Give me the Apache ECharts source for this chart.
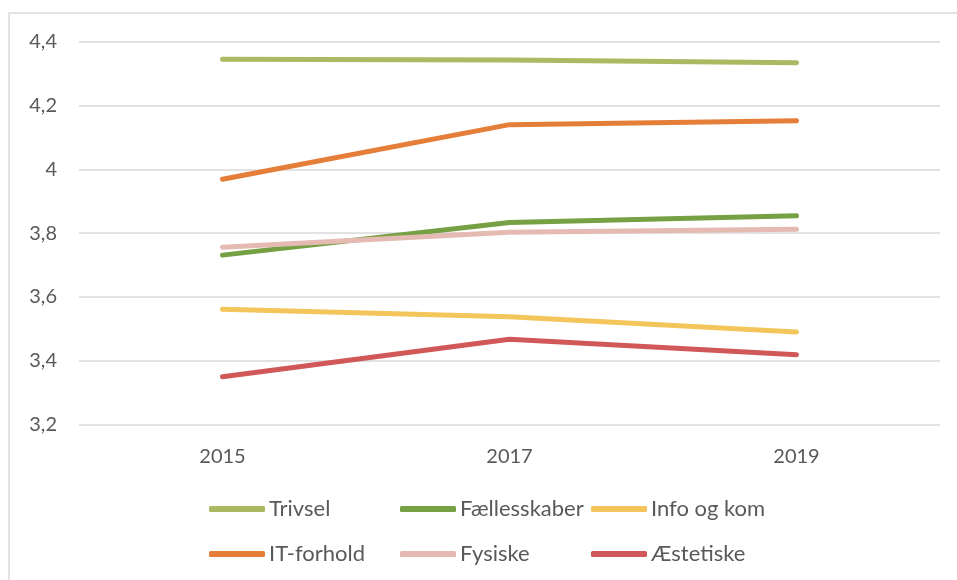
<!DOCTYPE html>
<html>
<head>
<meta charset="utf-8">
<script src="https://cdn.jsdelivr.net/npm/echarts@6/dist/echarts.min.js"></script>
<style>html,body{margin:0;padding:0;background:#fff}#c{width:957px;height:580px}</style>
</head>
<body>
<div id="c"></div>
<script>
const years = ['2015', '2017', '2019'];
const trivsel = [4.345, 4.343, 4.334];
const faellesskaber = [3.731, 3.833, 3.854];
const infoOgKom = [3.561, 3.538, 3.490];
const itForhold = [3.969, 4.140, 4.152];
const fysiske = [3.756, 3.803, 3.812];
const aestetiske = [3.350, 3.467, 3.419];
const yTicks = [3.2, 3.4, 3.6, 3.8, 4.0, 4.2, 4.4];

const seriesDefs = [
  {name: 'Trivsel', data: trivsel, color: '#A9BA62'},
  {name: 'Fællesskaber', data: faellesskaber, color: '#76A044'},
  {name: 'Info og kom', data: infoOgKom, color: '#F3C55B'},
  {name: 'IT-forhold', data: itForhold, color: '#E57E39'},
  {name: 'Fysiske', data: fysiske, color: '#E4BAB2'},
  {name: 'Æstetiske', data: aestetiske, color: '#D05858'}
];
const legendPos = [
  {left: 209, top: 497}, {left: 400, top: 497}, {left: 591, top: 497},
  {left: 209, top: 542}, {left: 400, top: 542}, {left: 591, top: 542}
];
const font = 'Lato, "Open Sans", sans-serif';
const chart = echarts.init(document.getElementById('c'));
chart.setOption({
  animation: false,
  textStyle: {fontFamily: font},
  graphic: [{type: 'rect', shape: {x: 9, y: 13, width: 1000, height: 1000}, style: {fill: 'none', stroke: '#d9d9d9', lineWidth: 1.5}, silent: true}],
  grid: {left: 79, right: 17, top: 41.7, bottom: 155.5, containLabel: false},
  legend: seriesDefs.map((s, i) => ({
    data: [s.name], left: legendPos[i].left, top: legendPos[i].top,
    icon: 'roundRect', itemWidth: 56, itemHeight: 6, padding: 0,
    textStyle: {fontSize: 22, lineHeight: 24, color: '#595959', fontFamily: font, padding: [0, 0, 0, -1]}
  })),
  xAxis: {
    type: 'category', data: years, boundaryGap: true,
    axisLine: {show: false}, axisTick: {show: false},
    axisLabel: {fontSize: 20, color: '#595959', margin: 22, fontFamily: font}
  },
  yAxis: {
    type: 'value', min: yTicks[0], max: yTicks[yTicks.length - 1], interval: 0.2,
    axisLine: {show: false}, axisTick: {show: false},
    splitLine: {lineStyle: {color: '#d9d9d9', width: 1.5}},
    axisLabel: {fontSize: 20, color: '#595959', margin: 22, fontFamily: font,
      formatter: v => String(Math.round(v * 10) / 10).replace('.', ',')}
  },
  series: seriesDefs.map(s => ({
    name: s.name, type: 'line', data: s.data, color: s.color,
    showSymbol: false, symbol: 'none',
    lineStyle: {width: 5, color: s.color, cap: 'round', join: 'round'}
  }))
});
</script>
</body>
</html>
